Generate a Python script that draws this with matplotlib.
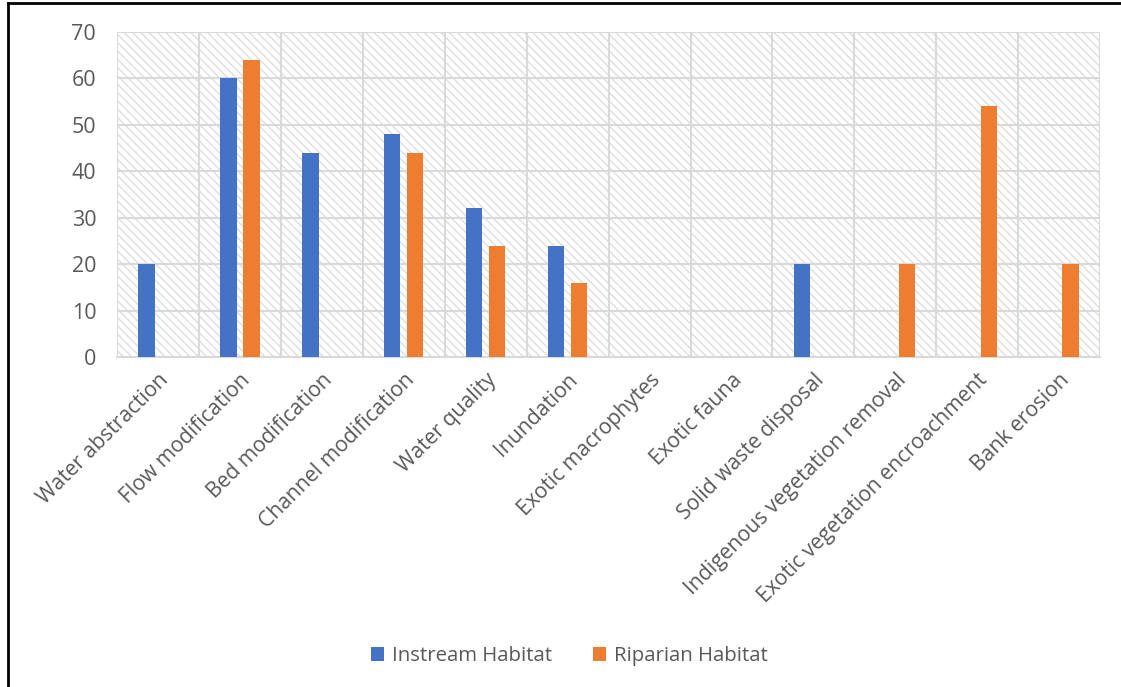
import numpy as np
import matplotlib.pyplot as plt
from matplotlib.patches import Rectangle
from matplotlib.lines import Line2D

# data
categories = ['Water abstraction', 'Flow modification', 'Bed modification',
              'Channel modification', 'Water quality', 'Inundation',
              'Exotic macrophytes', 'Exotic fauna', 'Solid waste disposal',
              'Indigenous vegetation removal', 'Exotic vegetation encroachment',
              'Bank erosion']
instream = [20, 60, 44, 48, 32, 24, 0, 0, 20, 0, 0, 0]
riparian = [0, 64, 0, 44, 24, 16, 0, 0, 0, 20, 54, 20]

plt.rcParams['font.family'] = ['Open Sans', 'DejaVu Sans']
plt.rcParams['hatch.linewidth'] = 1.0
text_col = '#595959'
grid_col = '#d9d9d9'

fig = plt.figure(figsize=(11.21, 6.87), dpi=100)
ax = fig.add_axes([0.1044, 0.4803, 0.877, 0.4731])

x = np.arange(len(categories))
width = 0.2
off = 0.14

# hatched plot background
ax.add_patch(Rectangle((0, 0), 1, 1, transform=ax.transAxes, facecolor='white',
                       edgecolor='#dedede', hatch='\\\\\\\\', linewidth=0, zorder=0))

ax.bar(x - off, instream, width, color='#4472C4', label='Instream Habitat', zorder=3)
ax.bar(x + off, riparian, width, color='#ED7D31', label='Riparian Habitat', zorder=3)

ax.set_xlim(-0.5, len(categories) - 0.5)
ax.set_ylim(0, 70)
ax.set_yticks(np.arange(0, 71, 10))
ax.set_xticks(x)
ax.set_xticks(np.arange(-0.5, len(categories), 1), minor=True)
ax.set_xticklabels(categories, rotation=45, ha='right', rotation_mode='anchor',
                   fontsize=15.2, color=text_col)
ax.tick_params(axis='x', which='both', length=0, pad=9)
ax.tick_params(axis='y', length=0, pad=15, labelsize=15.5, labelcolor=text_col)

ax.grid(True, axis='y', color=grid_col, linewidth=1.5, zorder=1)
ax.grid(True, axis='x', which='minor', color=grid_col, linewidth=1.5, zorder=1)
ax.grid(False, axis='x', which='major')
ax.set_axisbelow(True)
for s in ['top', 'right', 'left']:
    ax.spines[s].set_visible(False)
ax.spines['bottom'].set_color(grid_col)
ax.spines['bottom'].set_linewidth(1.5)

fig.legend(loc='center', bbox_to_anchor=(0.508, 0.045), ncol=2, frameon=False,
           fontsize=14.7, labelcolor=text_col, handlelength=0.65, handleheight=0.65,
           handletextpad=0.4, columnspacing=2.0)

# outer frame lines (left and top)
fig.add_artist(Line2D([0.0068, 0.0068], [0, 0.996], transform=fig.transFigure,
                      color='black', linewidth=2))
fig.add_artist(Line2D([0.0068, 1], [0.996, 0.996], transform=fig.transFigure,
                      color='black', linewidth=2))

fig.savefig('out.png', dpi=100)
